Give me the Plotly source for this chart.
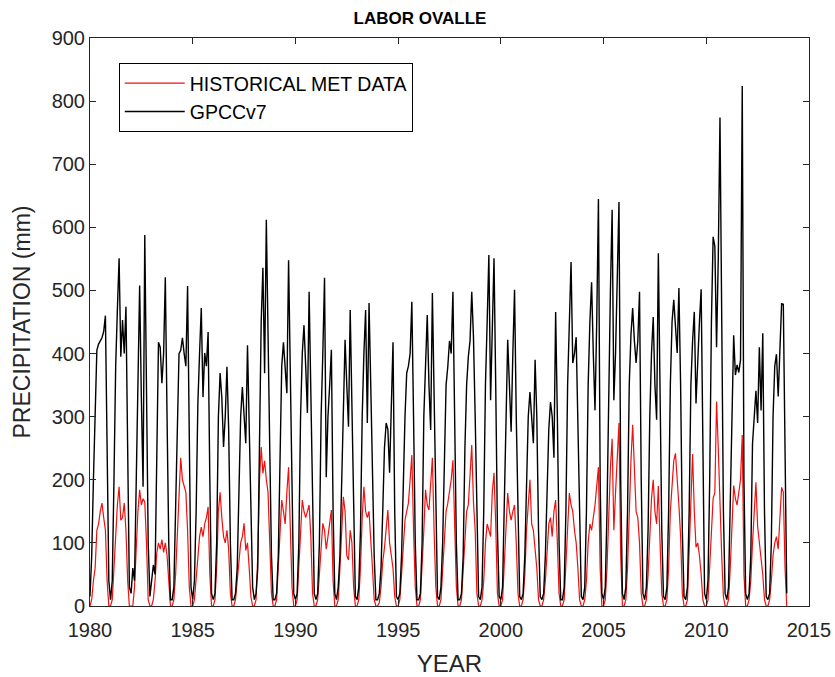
import plotly.graph_objects as go

start_year = 1980
months_per_year = 12

# GPCCv7 monthly precipitation (mm), one row per year 1980..2013 (Jan..Dec)
gpcc = [
    15, 80, 200, 320, 405, 415, 420, 425, 435, 460, 250, 40,      # 1980
    10, 40, 200, 380, 470, 551, 395, 453, 400, 474, 250, 30,      # 1981
    20, 60, 40, 200, 380, 508, 330, 189, 588, 300, 100, 15,       # 1982
    40, 65, 50, 250, 418, 410, 353, 400, 521, 300, 100, 10,       # 1983
    10, 30, 150, 300, 400, 405, 425, 400, 380, 507, 220, 30,      # 1984
    10, 40, 150, 320, 400, 472, 331, 401, 380, 434, 200, 20,      # 1985
    10, 20, 100, 300, 369, 330, 252, 300, 379, 280, 100, 10,      # 1986
    10, 20, 60, 200, 300, 347, 300, 258, 413, 300, 150, 30,       # 1987
    10, 20, 60, 300, 450, 536, 369, 612, 400, 250, 80, 10,        # 1988
    10, 20, 80, 250, 380, 418, 380, 337, 548, 350, 150, 20,       # 1989
    10, 20, 100, 300, 400, 445, 380, 306, 498, 350, 150, 20,      # 1990
    10, 20, 100, 300, 400, 520, 204, 300, 350, 406, 150, 20,      # 1991
    10, 30, 80, 200, 350, 422, 350, 284, 469, 300, 120, 15,       # 1992
    10, 30, 120, 300, 400, 469, 290, 480, 350, 200, 80, 10,       # 1993
    10, 20, 60, 150, 250, 290, 280, 211, 300, 418, 150, 15,       # 1994
    10, 20, 80, 200, 300, 369, 380, 400, 482, 300, 100, 10,       # 1995
    10, 20, 100, 300, 400, 461, 350, 279, 496, 350, 150, 15,      # 1996
    10, 30, 100, 250, 350, 379, 420, 400, 498, 300, 100, 10,      # 1997
    10, 20, 80, 250, 350, 395, 420, 498, 426, 300, 120, 15,       # 1998
    10, 30, 150, 350, 450, 556, 326, 450, 551, 350, 120, 15,      # 1999
    10, 30, 150, 300, 422, 350, 276, 400, 501, 300, 120, 15,      # 2000
    10, 20, 80, 200, 300, 339, 300, 258, 390, 300, 120, 15,       # 2001
    10, 20, 80, 200, 280, 323, 300, 235, 466, 300, 100, 10,       # 2002
    10, 30, 150, 350, 450, 545, 385, 400, 426, 300, 120, 15,      # 2003
    10, 30, 150, 350, 450, 513, 400, 310, 450, 645, 200, 20,      # 2004
    10, 30, 150, 350, 500, 628, 326, 400, 500, 640, 200, 20,      # 2005
    10, 30, 150, 350, 430, 472, 420, 385, 420, 498, 200, 20,      # 2006
    10, 30, 120, 300, 400, 458, 350, 295, 559, 350, 120, 15,      # 2007
    10, 30, 150, 350, 450, 485, 450, 401, 504, 350, 120, 15,      # 2008
    10, 30, 150, 350, 420, 466, 321, 400, 450, 502, 200, 20,      # 2009
    10, 40, 200, 450, 585, 570, 410, 550, 774, 400, 150, 20,      # 2010
    10, 30, 150, 300, 429, 366, 382, 370, 390, 824, 200, 20,      # 2011
    10, 20, 80, 257, 300, 341, 290, 410, 310, 432, 150, 15,       # 2012
    10, 20, 100, 300, 380, 399, 332, 420, 479, 478, 200, 20,      # 2013
]

# Historical station data (mm), one row per year 1980..2013 (Jan..Dec)
met = [
    0, 10, 40, 60, 120, 130, 150, 163, 140, 120, 40, 0,           # 1980
    0, 10, 60, 120, 160, 189, 136, 140, 163, 120, 40, 0,          # 1981
    0, 0, 30, 100, 150, 184, 160, 170, 165, 100, 10, 0,           # 1982
    0, 10, 40, 84, 100, 90, 105, 85, 100, 80, 30, 0,              # 1983
    0, 10, 50, 120, 180, 235, 200, 190, 180, 120, 30, 0,          # 1984
    0, 10, 40, 80, 110, 125, 110, 130, 140, 157, 50, 0,           # 1985
    0, 10, 60, 150, 180, 140, 110, 100, 120, 90, 20, 0,           # 1986
    0, 10, 40, 80, 100, 110, 131, 88, 100, 60, 15, 0,             # 1987
    0, 10, 80, 200, 252, 210, 230, 200, 180, 100, 20, 0,          # 1988
    0, 10, 60, 120, 168, 150, 130, 180, 220, 125, 30, 0,          # 1989
    0, 10, 60, 120, 168, 150, 140, 150, 160, 110, 20, 0,          # 1990
    0, 10, 50, 100, 131, 120, 90, 110, 130, 152, 40, 0,           # 1991
    0, 10, 60, 130, 173, 150, 80, 73, 120, 100, 30, 0,            # 1992
    0, 10, 60, 140, 189, 150, 140, 150, 110, 60, 10, 0,           # 1993
    0, 5, 30, 70, 92, 130, 152, 100, 75, 60, 15, 0,               # 1994
    0, 10, 50, 100, 136, 150, 163, 200, 239, 120, 30, 0,          # 1995
    0, 10, 60, 120, 184, 160, 152, 200, 235, 120, 30, 0,          # 1996
    0, 10, 60, 120, 150, 163, 180, 200, 231, 140, 30, 0,          # 1997
    0, 10, 60, 120, 150, 160, 200, 255, 165, 120, 20, 0,          # 1998
    0, 10, 40, 100, 130, 120, 110, 180, 211, 130, 20, 0,          # 1999
    0, 10, 60, 130, 179, 150, 136, 150, 160, 100, 20, 0,          # 2000
    0, 10, 50, 120, 170, 200, 130, 120, 90, 60, 10, 0,            # 2001
    0, 10, 40, 90, 130, 140, 110, 150, 168, 100, 20, 0,           # 2002
    0, 10, 60, 130, 179, 160, 150, 120, 100, 60, 10, 0,           # 2003
    0, 10, 40, 100, 130, 120, 140, 160, 190, 220, 60, 0,          # 2004
    0, 10, 60, 150, 220, 265, 120, 180, 230, 290, 80, 0,          # 2005
    0, 10, 60, 150, 230, 287, 200, 150, 140, 100, 20, 0,          # 2006
    0, 10, 50, 120, 170, 200, 150, 130, 190, 100, 20, 0,          # 2007
    0, 10, 60, 150, 200, 230, 242, 190, 160, 110, 20, 0,          # 2008
    0, 10, 80, 180, 241, 150, 93, 100, 80, 50, 10, 0,             # 2009
    0, 10, 60, 130, 170, 180, 324, 250, 150, 80, 15, 0,           # 2010
    0, 10, 60, 130, 191, 170, 160, 180, 200, 271, 50, 0,          # 2011
    0, 10, 40, 100, 150, 196, 126, 100, 65, 50, 10, 0,            # 2012
    0, 10, 40, 80, 100, 110, 90, 150, 188, 180, 60, 0,            # 2013
]

x_ticks = [1980, 1985, 1990, 1995, 2000, 2005, 2010, 2015]
y_ticks = [0, 100, 200, 300, 400, 500, 600, 700, 800, 900]

time = [start_year + i / months_per_year for i in range(len(gpcc))]

FONT = "Liberation Sans, Arial, Helvetica, sans-serif"
AX = "#262626"

fig = go.Figure()
fig.add_trace(go.Scatter(x=time, y=met, mode="lines", name="HISTORICAL MET DATA",
                         line=dict(color="#f01010", width=1.2)))
fig.add_trace(go.Scatter(x=time, y=gpcc, mode="lines", name="GPCCv7",
                         line=dict(color="#000000", width=1.4)))

axis_common = dict(showline=True, linecolor=AX, linewidth=1, mirror="ticks",
                   ticks="inside", ticklen=6, tickcolor=AX, tickwidth=1,
                   showgrid=False, zeroline=False, automargin=False,
                   tickfont=dict(family=FONT, size=20, color=AX))

fig.update_layout(
    width=835, height=677,
    margin=dict(l=90, r=26, t=38, b=71),
    paper_bgcolor="white", plot_bgcolor="white",
    title=dict(text="<b>LABOR OVALLE</b>", x=0.503, xanchor="center",
               y=1 - 18 / 677, yanchor="middle",
               font=dict(family=FONT, size=17, color="#000000")),
    xaxis=dict(range=[x_ticks[0], x_ticks[-1]], tickvals=x_ticks,
               ticklabelstandoff=6,
               title=dict(text="YEAR", font=dict(family=FONT, size=24, color=AX), standoff=15),
               **axis_common),
    yaxis=dict(range=[y_ticks[0], y_ticks[-1]], tickvals=y_ticks,
               title=dict(text="PRECIPITATION (mm)", font=dict(family=FONT, size=23, color=AX), standoff=14),
               **axis_common),
    legend=dict(x=0.04, y=0.956, xanchor="left", yanchor="top",
                bgcolor="white", bordercolor="#000000", borderwidth=1,
                font=dict(family=FONT, size=19.5, color="#000000"),
                tracegroupgap=0, itemwidth=60),
    showlegend=True,
)

fig.write_html("out.html")
